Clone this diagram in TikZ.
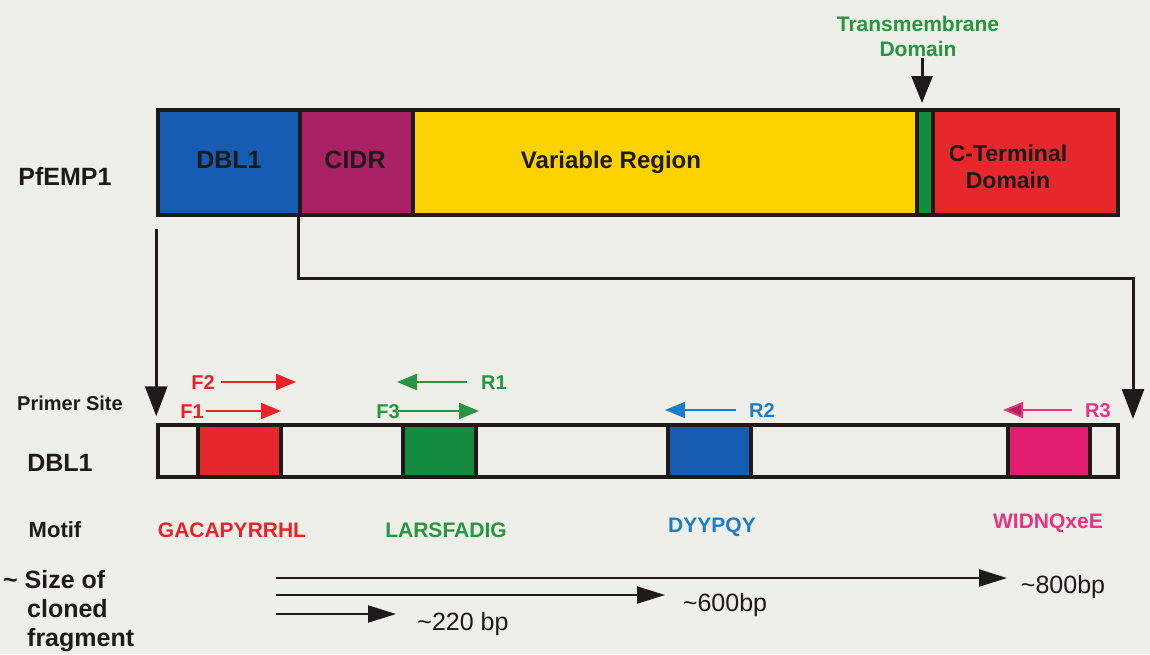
\documentclass[tikz,border=0pt]{standalone}
\usepackage{fontspec}
\setmainfont{Liberation Sans}
\usetikzlibrary{arrows.meta}
\definecolor{bg}{RGB}{238,239,233}
\definecolor{cblue}{RGB}{22,92,178}
\definecolor{cmag}{RGB}{170,32,100}
\definecolor{cyel}{RGB}{250,210,0}
\definecolor{cgreen}{RGB}{20,140,64}
\definecolor{cred}{RGB}{230,40,45}
\definecolor{cpink}{RGB}{226,30,110}
\definecolor{tred}{RGB}{232,34,40}
\definecolor{tgreen}{RGB}{40,150,64}
\definecolor{tblue}{RGB}{30,125,195}
\definecolor{tpink}{RGB}{232,50,130}
\definecolor{rthree}{RGB}{165,40,90}
\definecolor{ink}{RGB}{30,26,24}
\newcommand{\pxsize}[1]{\fontsize{#1}{#1}\selectfont}
\begin{document}
\begin{tikzpicture}[x=1pt,y=-1pt,
  seg/.style={draw=ink,line width=3.5pt,inner sep=0pt,minimum height=105pt},
  box/.style={draw=ink,line width=3.5pt,inner sep=0pt,minimum height=52pt},
  lab/.style={inner sep=0pt,font=\pxsize{25}\bfseries,text=ink},
  seq/.style={inner sep=0pt,font=\pxsize{21}\bfseries},
  prim/.style={inner sep=0pt,font=\pxsize{20}\bfseries},
  bp/.style={inner sep=0pt,font=\pxsize{25},text=ink},
  bigarrow/.style={draw=ink,line width=3pt,-{Triangle[length=30pt,width=22pt]}},
  sizearrow/.style={draw=ink,line width=2pt,-{Triangle[length=28pt,width=17pt]}},
  primarrow/.style={line width=2pt,-{Triangle[length=20pt,width=16pt]}}]
\path[fill=bg] (0,0) rectangle (1150,654);
% top bar
\node[seg,fill=cblue,minimum width=142pt] (dbl) at (229,162.5) {};
\node[seg,fill=cmag,minimum width=113pt] (cidr) at (356.5,162.5) {};
\node[seg,fill=cyel,minimum width=504pt] (var) at (665,162.5) {};
\node[seg,fill=cgreen,minimum width=16pt] (tm) at (925,162.5) {};
\node[seg,fill=cred,minimum width=185pt] (ct) at (1025.5,162.5) {};
\node[lab] (tdbl) at (229,160) {DBL1};
\node[lab] (tcidr) at (355,160) {CIDR};
\node[lab,font=\pxsize{24}\bfseries] (tvar) at (611,162) {Variable Region};
\node[lab,font=\pxsize{23}\bfseries,align=center] (tct) at (1008,167) {C-Terminal\\[4pt]Domain};
\node[lab] (pf) at (65,176) {PfEMP1};
\node[inner sep=0pt,font=\pxsize{21}\bfseries,text=tgreen,align=center] (ttm) at (918,36) {Transmembrane\\[4pt]Domain};
\coordinate (tmtop) at (922,58);
\coordinate (tmtip) at (922,103);
\draw[bigarrow,-{Triangle[length=27pt,width=21pt]}] (tmtop) -- (tmtip);
% bottom bar
\node[box,fill=bg,minimum width=960pt] (bar) at (638,451) {};
\node[box,fill=cred,minimum width=83pt] (bred) at (239.5,451) {};
\node[box,fill=cgreen,minimum width=73pt] (bgreen) at (439.5,451) {};
\node[box,fill=cblue,minimum width=83pt] (bblue) at (709.5,451) {};
\node[box,fill=cpink,minimum width=82pt] (bpink) at (1049,451) {};
% connectors from top bar
\draw[bigarrow,shorten <=12pt,shorten >=7pt] (dbl.south west) -- (bar.north west);
\coordinate (turn) at (1133,278);
\coordinate (r3tip) at (1133,419);
\draw[bigarrow] (cidr.south west) |- (turn) -- (r3tip);
% left labels
\node[lab,font=\pxsize{20}\bfseries] (ps) at (70,403) {Primer Site};
\node[lab] (dbl2) at (60,463) {DBL1};
\node[lab,font=\pxsize{22}\bfseries] (motif) at (55,530) {Motif};
\node[lab,anchor=north west,align=left,font=\pxsize{25}\bfseries] (size) at (3,570)
  {\textasciitilde{} Size of\\[4pt]\hspace*{24pt}cloned\\[4pt]\hspace*{24pt}fragment};
% primers
\coordinate (f2a) at (221,382); \coordinate (f2b) at (296,382);
\coordinate (f1a) at (206,411); \coordinate (f1b) at (281,411);
\coordinate (r1a) at (467,382); \coordinate (r1b) at (397,382);
\coordinate (f3a) at (398,411); \coordinate (f3b) at (479,411);
\coordinate (r2a) at (736,410); \coordinate (r2b) at (665,410);
\coordinate (r3a) at (1072,410); \coordinate (r3b) at (1003,410);
\draw[primarrow,draw=tred,fill=tred] (f2a) -- (f2b);
\draw[primarrow,draw=tred,fill=tred] (f1a) -- (f1b);
\draw[primarrow,draw=tgreen,fill=tgreen] (r1a) -- (r1b);
\draw[primarrow,draw=tgreen,fill=tgreen] (f3a) -- (f3b);
\draw[primarrow,draw=tblue,fill=tblue] (r2a) -- (r2b);
\draw[primarrow,draw=tpink,-{Triangle[length=20pt,width=16pt,fill=rthree]}] (r3a) -- (r3b);
\node[prim,text=tred] (tf2) at (203,383) {F2};
\node[prim,text=tred] (tf1) at (192,412) {F1};
\node[prim,text=tgreen] (tr1) at (494,383) {R1};
\node[prim,text=tgreen] (tf3) at (388,412) {F3};
\node[prim,text=tblue] (tr2) at (762,411) {R2};
\node[prim,text=tpink] (tr3) at (1098,411) {R3};
% motifs
\node[seq,text=tred] (m1) at (232,530) {GACAPYRRHL};
\node[seq,text=tgreen] (m2) at (446,530) {LARSFADIG};
\node[seq,text=tblue] (m3) at (712,527) {DYYPQY};
\node[seq,text=tpink] (m4) at (1048,523) {WIDNQxeE};
% size arrows
\coordinate (s1a) at (276,578); \coordinate (s1b) at (1007,578);
\coordinate (s2a) at (276,595); \coordinate (s2b) at (665,595);
\coordinate (s3a) at (276,614); \coordinate (s3b) at (396,614);
\draw[sizearrow] (s1a) -- (s1b);
\draw[sizearrow] (s2a) -- (s2b);
\draw[sizearrow] (s3a) -- (s3b);
\node[bp] (l800) at (1063,587) {\textasciitilde800bp};
\node[bp] (l600) at (725,605) {\textasciitilde600bp};
\node[bp] (l220) at (463,624) {\textasciitilde220 bp};
\end{tikzpicture}
\end{document}
